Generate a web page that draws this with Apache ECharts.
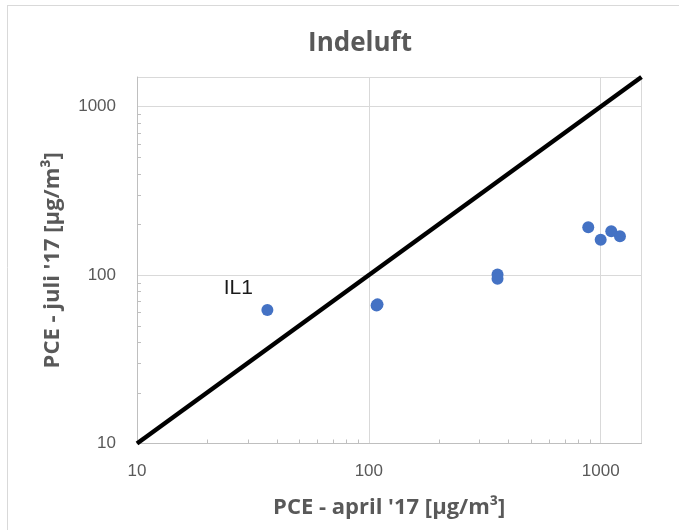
<!DOCTYPE html>
<html>
<head>
<meta charset="utf-8">
<script src="https://cdn.jsdelivr.net/npm/echarts@6/dist/echarts.min.js"></script>
<style>
html,body{margin:0;padding:0;background:#fff;}
#chart{width:679px;height:530px;}
</style>
</head>
<body>
<div id="chart"></div>
<script>
var title = 'Indeluft';
var xName = "PCE - april '17 [µg/m³]";
var yName = "PCE - juli '17 [µg/m³]";
var aprilValues = [36.5, 108, 109, 359, 359, 884, 1000, 1111, 1211];
var juliValues  = [62.1, 66, 67, 100.7, 95, 192, 162, 182, 170];
var pointLabels = ['IL1', '', '', '', '', '', '', '', ''];
var diagonalX = [10, 1500];
var diagonalY = [10, 1500];
var axisMin = 10;
var axisMax = 1500;
var minorTickValues = [20,30,40,50,60,70,80,90,200,300,400,500,600,700,800,900];

var points = aprilValues.map(function (x, i) { return [x, juliValues[i], pointLabels[i]]; });
var diag = diagonalX.map(function (x, i) { return [x, diagonalY[i]]; });

function isPow10(v) {
  var l = Math.log10(v);
  return Math.abs(l - Math.round(l)) < 1e-6;
}

var labelColor = '#595959';
var font = '"Liberation Sans", Arial, sans-serif';
var boldFont = '"Open Sans", "DejaVu Sans", sans-serif';

var chart = echarts.init(document.getElementById('chart'), null, {renderer: 'canvas'});
chart.setOption({
  animation: false,
  backgroundColor: '#fff',
  title: {
    text: title,
    left: 355, top: 26,
    textAlign: 'center',
    textStyle: {fontFamily: boldFont, fontSize: 26, fontWeight: 'bold', color: labelColor}
  },
  graphic: [
    {type: 'line', shape: {x1: 7, y1: 5.5, x2: 679, y2: 5.5}, style: {stroke: '#d9d9d9', lineWidth: 1}},
    {type: 'line', shape: {x1: 7.5, y1: 5, x2: 7.5, y2: 530}, style: {stroke: '#d9d9d9', lineWidth: 1}}
  ],
  grid: {left: 137, right: 37.5, top: 77, bottom: 86.5},
  xAxis: {
    type: 'log', logBase: 10, min: axisMin, max: axisMax,
    name: xName, nameLocation: 'middle', nameGap: 53,
    nameTextStyle: {fontFamily: boldFont, fontSize: 22, fontWeight: 'bold', color: labelColor},
    axisLine: {show: true, lineStyle: {color: '#bfbfbf', width: 1}},
    axisTick: {show: false},
    splitLine: {show: true, lineStyle: {color: '#d9d9d9', width: 1}},
    axisLabel: {
      fontFamily: font, fontSize: 17, color: labelColor, margin: 19,
      formatter: function (v) { return isPow10(v) ? String(Math.round(v)) : ''; }
    }
  },
  yAxis: {
    type: 'log', logBase: 10, min: axisMin, max: axisMax,
    name: yName, nameLocation: 'middle', nameGap: 73, nameRotate: 90,
    nameTextStyle: {fontFamily: boldFont, fontSize: 22, fontWeight: 'bold', color: labelColor},
    axisLine: {show: true, lineStyle: {color: '#bfbfbf', width: 1}},
    axisTick: {show: false},
    splitLine: {show: true, lineStyle: {color: '#d9d9d9', width: 1}},
    axisLabel: {
      fontFamily: font, fontSize: 17, color: labelColor, margin: 21,
      formatter: function (v) { return isPow10(v) ? String(Math.round(v)) : ''; }
    }
  },
  series: [
    {
      type: 'custom',
      silent: true,
      data: minorTickValues,
      renderItem: function (params, api) {
        var v = api.value(0);
        var px = api.coord([v, axisMin]);
        var py = api.coord([axisMin, v]);
        return {
          type: 'group',
          children: [
            {type: 'line', shape: {x1: Math.round(px[0]) + 0.5, y1: px[1], x2: Math.round(px[0]) + 0.5, y2: px[1] - 4}, style: {stroke: '#bfbfbf', lineWidth: 1}},
            {type: 'line', shape: {x1: py[0], y1: Math.round(py[1]) + 0.5, x2: py[0] + 4, y2: Math.round(py[1]) + 0.5}, style: {stroke: '#bfbfbf', lineWidth: 1}}
          ]
        };
      },
      encode: {x: 0},
      z: 1
    },
    {
      type: 'line',
      data: diag,
      symbol: 'none',
      lineStyle: {color: '#000', width: 4.5},
      z: 3
    },
    {
      type: 'scatter',
      data: points,
      symbol: 'circle',
      symbolSize: 12,
      itemStyle: {color: '#4472C4', opacity: 1},
      label: {
        show: true,
        formatter: function (p) { return p.data[2]; },
        position: 'inside',
        offset: [-29, -22],
        fontFamily: font, fontSize: 21, color: '#1a1a1a'
      },
      z: 4
    }
  ]
});
</script>
</body>
</html>
